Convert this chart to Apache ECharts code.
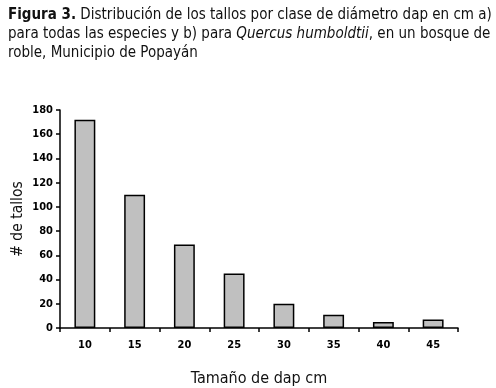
<!DOCTYPE html>
<html><head><meta charset="utf-8">
<script src="https://cdn.jsdelivr.net/npm/echarts@6/dist/echarts.min.js"></script>
<style>html,body{margin:0;padding:0;background:#fff}#c{width:496px;height:388px}</style>
</head><body><div id="c"></div>
<script>
const categories = ['10','15','20','25','30','35','40','45'];
const values = [172, 110, 69, 45, 20, 11, 5, 7];
const yTicks = [0,20,40,60,80,100,120,140,160,180];
const FF = '"DejaVu Sans Condensed","Liberation Sans Narrow",sans-serif';
const chart = echarts.init(document.getElementById('c'), null, {renderer:'canvas'});
chart.setOption({
  animation:false,
  backgroundColor:'#fff',
  title:{
    left:3, top:1,
    text:'{b|Figura 3.}{n| Distribución de los tallos por clase de diámetro dap en cm a)}\n{n|para todas las especies y b) para }{i|Quercus humboldtii}{n|, en un bosque de}\n{n|roble, Municipio de Popayán}',
    textStyle:{
      fontFamily:FF, fontSize:15, fontWeight:'normal', color:'#111', lineHeight:19,
      rich:{
        b:{fontFamily:FF,fontSize:15,fontWeight:'bold',color:'#111',lineHeight:19},
        n:{fontFamily:FF,fontSize:15,fontWeight:'normal',color:'#111',lineHeight:19},
        i:{fontFamily:FF,fontSize:15,fontWeight:'normal',fontStyle:'italic',color:'#111',lineHeight:19}
      }
    }
  },
  grid:{left:60,right:38,top:110,bottom:60,containLabel:false,outerBoundsMode:'none'},
  xAxis:{
    type:'category', data:categories,
    name:'Tamaño de dap cm', nameLocation:'middle', nameGap:43,
    nameTextStyle:{fontFamily:FF,fontSize:16,color:'#111'},
    axisLine:{lineStyle:{color:'#000',width:1.5}},
    axisTick:{show:true,length:4,lineStyle:{color:'#000',width:1.5},alignWithLabel:false},
    axisLabel:{fontFamily:FF,fontSize:11,fontWeight:'bold',color:'#000',margin:12}
  },
  yAxis:{
    type:'value', min:0, max:180, interval:20,
    name:'# de tallos', nameLocation:'middle', nameGap:34, nameMoveOverlap:false,
    nameTextStyle:{fontFamily:FF,fontSize:15.5,color:'#111'},
    axisLine:{show:true,lineStyle:{color:'#000',width:1.5}},
    axisTick:{show:true,length:4,lineStyle:{color:'#000',width:1.5}},
    splitLine:{show:false},
    axisLabel:{fontFamily:FF,fontSize:11,fontWeight:'bold',color:'#000',margin:7,
      formatter:function(v){return yTicks.indexOf(v)>=0?String(v):'';}}
  },
  series:[{
    type:'bar', data:values, barWidth:'42%',
    itemStyle:{color:'#c0c0c0',borderColor:'#000',borderWidth:1.5}
  }]
});
</script></body></html>
